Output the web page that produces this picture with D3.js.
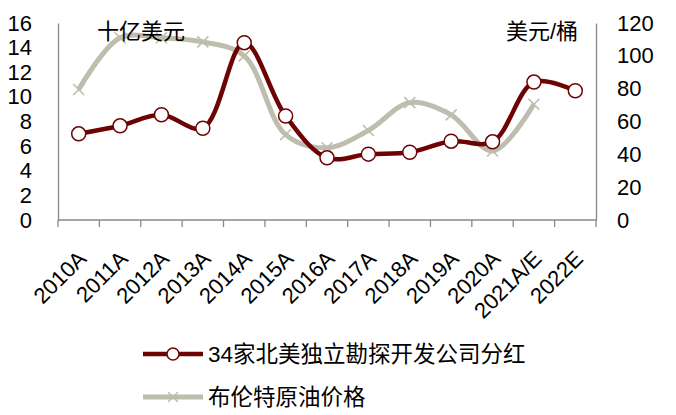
<!DOCTYPE html>
<html><head><meta charset="utf-8">
<script src="https://cdn.jsdelivr.net/npm/d3@7"></script>
<style>body{margin:0;background:#fff}text{font-family:"Liberation Sans",Arial,"Noto Sans CJK SC",sans-serif}</style>
</head><body><svg id="c" width="676" height="415"></svg>
<script>
const categories=["2010A","2011A","2012A","2013A","2014A","2015A","2016A","2017A","2018A","2019A","2020A","2021A/E","2022E"];
const dividends=[7.0,7.65,8.55,7.45,14.4,8.45,5.05,5.35,5.5,6.4,6.35,11.2,10.5];
const brent=[79.5,111,111,108.5,100,52,44,54.5,71.5,64,42,70.5,null];
const leftTicks=[0,2,4,6,8,10,12,14,16];
const rightTicks=[0,20,40,60,80,100,120];
const seriesNames=["34家北美独立勘探开发公司分红","布伦特原油价格"];
const unitLeft="十亿美元", unitRight="美元/桶";

const svg=d3.select("#c");
const x0=58,x1=596,yB=220,yT=23;
const red="#6E0303", grey="#BEBDAE";
const x=d3.scaleBand().domain(categories).range([x0,x1]);
const yL=d3.scaleLinear().domain([0,16]).range([yB,yT]);
const yR=d3.scaleLinear().domain([0,120]).range([yB,yT]);
const cx=d=>x(d)+x.bandwidth()/2;

// axes
const axL=svg.append("g").attr("transform",`translate(${x0},0)`).call(d3.axisLeft(yL).tickValues(leftTicks).tickSize(0).tickPadding(26));
const axR=svg.append("g").attr("transform",`translate(${x1},0)`).call(d3.axisRight(yR).tickValues(rightTicks).tickSize(0).tickPadding(21));
[axL,axR].forEach(a=>{a.select(".domain").attr("stroke","#888").attr("stroke-width",1.3);a.selectAll("text").attr("font-size",22).attr("fill","#000");});

const axB=svg.append("g").attr("transform",`translate(0,${yB})`);
axB.append("line").attr("x1",x0).attr("x2",x1).attr("stroke","#888").attr("stroke-width",1.3);
const bounds=categories.map(c=>x(c)).concat([x1]);
axB.selectAll("line.t").data(bounds).join("line").attr("class","t").attr("x1",d=>d).attr("x2",d=>d).attr("y1",0).attr("y2",7).attr("stroke","#888").attr("stroke-width",1.3);
axB.selectAll("text").data(categories).join("text")
  .attr("transform",d=>`translate(${cx(d)+9},${40}) rotate(-45)`)
  .attr("text-anchor","end").attr("font-size",22).attr("fill","#000").text(d=>d);

// lines
const lineR=d3.line().defined(d=>d!=null).x((d,i)=>cx(categories[i])).y(d=>yR(d)).curve(d3.curveCatmullRom.alpha(0.5));
const lineL=d3.line().x((d,i)=>cx(categories[i])).y(d=>yL(d)).curve(d3.curveCatmullRom.alpha(0.5));
svg.append("path").attr("d",lineR(brent)).attr("fill","none").attr("stroke",grey).attr("stroke-width",5);
const xs=5.5;
svg.selectAll("path.xm").data(brent.map((v,i)=>[i,v]).filter(d=>d[1]!=null)).join("path").attr("class","xm")
  .attr("d",d=>{const px=cx(categories[d[0]]),py=yR(d[1]);return `M${px-xs},${py-xs}L${px+xs},${py+xs}M${px-xs},${py+xs}L${px+xs},${py-xs}`;})
  .attr("stroke",grey).attr("stroke-width",1.6);
svg.append("path").attr("d",lineL(dividends)).attr("fill","none").attr("stroke",red).attr("stroke-width",4.5);
svg.selectAll("circle.m").data(dividends).join("circle").attr("class","m")
  .attr("cx",(d,i)=>cx(categories[i])).attr("cy",d=>yL(d)).attr("r",7).attr("fill","#fff").attr("stroke",red).attr("stroke-width",1.5);

// unit labels
svg.append("text").attr("x",97).attr("y",39).attr("font-size",22).text(unitLeft);
svg.append("text").attr("x",578).attr("y",39).attr("text-anchor","end").attr("font-size",22).text(unitRight);

// legend
const lg=svg.append("g");
lg.append("line").attr("x1",143).attr("x2",203).attr("y1",354).attr("y2",354).attr("stroke",red).attr("stroke-width",4.5);
lg.append("circle").attr("cx",173).attr("cy",354).attr("r",6).attr("fill","#fff").attr("stroke",red).attr("stroke-width",1.5);
lg.append("text").attr("x",208).attr("y",362).attr("font-size",22.5).text(seriesNames[0]);
lg.append("line").attr("x1",143).attr("x2",203).attr("y1",397).attr("y2",397).attr("stroke",grey).attr("stroke-width",5);
lg.append("path").attr("d","M168,392L178,402M168,402L178,392").attr("stroke",grey).attr("stroke-width",1.5);
lg.append("text").attr("x",208).attr("y",405).attr("font-size",22.5).text(seriesNames[1]);
</script></body></html>
